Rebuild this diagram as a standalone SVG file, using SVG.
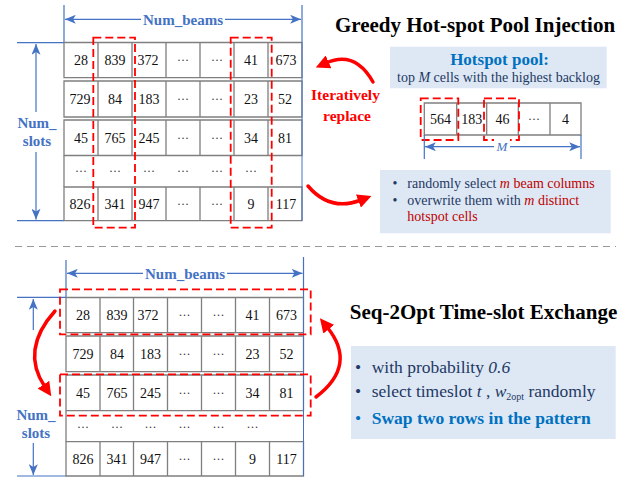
<svg xmlns="http://www.w3.org/2000/svg" width="638" height="480" viewBox="0 0 638 480">
<style>
text{font-family:"Liberation Serif","Times New Roman",serif}
.c{font-size:14px;fill:#111;text-anchor:middle}
.d{font-size:12px;fill:#333;text-anchor:middle}
.cell{fill:#fff;stroke:#7f7f7f;stroke-width:1.3}
.bl{stroke:#4472C4;stroke-width:1.2;fill:none}
.bt{font-size:15px;font-weight:bold;fill:#4472C4;text-anchor:middle}
.rd{fill:none;stroke:#FF0000;stroke-width:1.8;stroke-dasharray:8 4}
.ra{fill:none;stroke:#FF0000;stroke-width:3.5;stroke-linecap:round}
.ti{font-size:21px;font-weight:bold;fill:#000;text-anchor:middle}
.box{fill:#DDE8F4}
.nv{fill:#1F3864}
.rr{fill:#C00000}
</style>
<defs>
<marker id="ab" viewBox="0 0 12 10" refX="12" refY="5" markerWidth="12" markerHeight="9" orient="auto-start-reverse" markerUnits="userSpaceOnUse"><path d="M0,0 L12,5 L0,10 L3,5 z" fill="#4472C4"/></marker>
<marker id="ar" viewBox="0 0 10 10" refX="2" refY="5" markerWidth="14" markerHeight="14" orient="auto" markerUnits="userSpaceOnUse"><path d="M0,0 L10,5 L0,10 z" fill="#FF0000"/></marker>
</defs>
<rect width="638" height="480" fill="#fff"/>

<!-- TOP SECTION -->
<g id="top-dimensions">
<line class="bl" x1="64" y1="5" x2="64" y2="42.5"/>
<line class="bl" x1="302" y1="5" x2="302" y2="42.5"/>
<line class="bl" x1="65" y1="19.3" x2="301" y2="19.3" marker-start="url(#ab)" marker-end="url(#ab)"/>
<rect x="141" y="10" width="84" height="18" fill="#fff"/>
<text class="bt" x="183" y="24.5">Num_beams</text>
<line class="bl" x1="17" y1="42.6" x2="64" y2="42.6"/>
<line class="bl" x1="17" y1="220.7" x2="64" y2="220.7"/>
<line class="bl" x1="36" y1="44" x2="36" y2="112" marker-start="url(#ab)"/>
<line class="bl" x1="36" y1="152" x2="36" y2="219.5" marker-end="url(#ab)"/>
<text class="bt" x="37" y="128.3">Num_</text>
<text class="bt" x="37" y="145.7">slots</text>
</g>

<g id="top-grid">
<path class="cell" d="M64,42.5h34v35.2h-34z M98,42.5h34v35.2h-34z M132,42.5h34v35.2h-34z M166,42.5h34v35.2h-34z M200,42.5h34v35.2h-34z M234,42.5h34v35.2h-34z M268,42.5h34v35.2h-34z"/>
<path class="cell" d="M64,81h34v36h-34z M98,81h34v36h-34z M132,81h34v36h-34z M166,81h34v36h-34z M200,81h34v36h-34z M234,81h34v36h-34z M268,81h34v36h-34z"/>
<path class="cell" d="M64,120h34v35.5h-34z M98,120h34v35.5h-34z M132,120h34v35.5h-34z M166,120h34v35.5h-34z M200,120h34v35.5h-34z M234,120h34v35.5h-34z M268,120h34v35.5h-34z"/>
<path class="cell" d="M64,187h34v33.7h-34z M98,187h34v33.7h-34z M132,187h34v33.7h-34z M166,187h34v33.7h-34z M200,187h34v33.7h-34z M234,187h34v33.7h-34z M268,187h34v33.7h-34z"/>
<line x1="64" y1="155.5" x2="64" y2="187" stroke="#7f7f7f" stroke-width="1.3"/>
<line x1="302" y1="42.5" x2="302" y2="220.7" stroke="#4472C4" stroke-width="1"/>
<text class="c" x="81" y="65">28</text><text class="c" x="115" y="65">839</text><text class="c" x="148" y="65">372</text><text class="d" x="183" y="64">···</text><text class="d" x="217" y="64">···</text><text class="c" x="251" y="65">41</text><text class="c" x="286" y="65">673</text>
<text class="c" x="80" y="104">729</text><text class="c" x="115" y="104">84</text><text class="c" x="149" y="104">183</text><text class="d" x="183" y="103">···</text><text class="d" x="217" y="103">···</text><text class="c" x="251" y="104">23</text><text class="c" x="285" y="104">52</text>
<text class="c" x="81" y="143">45</text><text class="c" x="115" y="143">765</text><text class="c" x="149" y="143">245</text><text class="d" x="183" y="142">···</text><text class="d" x="217" y="142">···</text><text class="c" x="251" y="143">34</text><text class="c" x="285" y="143">81</text>
<text class="d" x="81" y="175">···</text><text class="d" x="115" y="175">···</text><text class="d" x="149" y="175">···</text><text class="d" x="183" y="175">···</text><text class="d" x="217" y="175">···</text><text class="d" x="251" y="175">···</text>
<text class="c" x="80" y="209">826</text><text class="c" x="115" y="209">341</text><text class="c" x="149" y="209">947</text><text class="d" x="183" y="208">···</text><text class="d" x="217" y="208">···</text><text class="c" x="251" y="209">9</text><text class="c" x="286" y="209">117</text>
<rect class="rd" x="93.3" y="37.7" width="41.7" height="190"/>
<rect class="rd" x="230.7" y="37.7" width="41" height="190"/>
</g>

<g id="top-title">
<text class="ti" x="475" y="32">Greedy Hot-spot Pool Injection</text>
</g>

<g id="hotspot-pool">
<rect class="box" x="390" y="46.7" width="216.7" height="41.6"/>
<text x="499.5" y="65" font-size="17px" font-weight="bold" fill="#0070C0" text-anchor="middle">Hotspot pool:</text>
<text x="498.5" y="81.7" font-size="14px" class="nv" text-anchor="middle">top <tspan font-style="italic">M</tspan> cells with the highest backlog</text>
</g>

<g id="pool-array">
<path class="cell" d="M424.3,103h32.4v32h-32.4z M456.7,103h30v32h-30z M486.7,103h31.6v32h-31.6z M518.3,103h31.7v32h-31.7z M550,103h31v32h-31z"/>
<text class="c" x="440.5" y="124">564</text><text class="c" x="471.7" y="124">183</text><text class="c" x="502.5" y="124">46</text><text class="d" x="534" y="123">···</text><text class="c" x="565.5" y="124">4</text>
<rect class="rd" x="420.7" y="98.3" width="37.6" height="41.7"/>
<rect class="rd" x="484" y="98.3" width="35" height="41.7"/>
<line class="bl" x1="424.3" y1="135" x2="424.3" y2="159"/>
<line class="bl" x1="581" y1="135" x2="581" y2="159"/>
<line class="bl" x1="425" y1="146.7" x2="580" y2="146.7" marker-start="url(#ab)" marker-end="url(#ab)"/>
<rect x="494" y="139" width="16" height="14" fill="#fff"/>
<text x="502" y="151" font-size="13px" font-style="italic" fill="#4472C4" text-anchor="middle">M</text>
</g>

<g id="iteratively-replace">
<text x="345.5" y="100" font-size="15.5px" font-weight="bold" fill="#FF0000" text-anchor="middle">Iteratively</text>
<text x="347" y="120.7" font-size="15.5px" font-weight="bold" fill="#FF0000" text-anchor="middle">replace</text>
</g>

<g id="top-bullets">
<rect class="box" x="380" y="170" width="230.7" height="63.3"/>
<text x="395" y="188.3" font-size="14px" class="nv" text-anchor="middle">•</text>
<text x="407.3" y="188.3" font-size="14px" class="nv">randomly select <tspan class="rr" font-style="italic">m</tspan><tspan class="rr"> beam columns</tspan></text>
<text x="395" y="205" font-size="14px" class="nv" text-anchor="middle">•</text>
<text x="407.3" y="205" font-size="14px" class="nv">overwrite them with <tspan class="rr" font-style="italic">m</tspan><tspan class="rr"> distinct</tspan></text>
<text x="407.3" y="220.7" font-size="14px" class="rr">hotspot cells</text>
</g>

<line id="separator" x1="15" y1="246.5" x2="616" y2="246.5" stroke="#9a9a9a" stroke-width="1.2" stroke-dasharray="7 5"/>

<!-- BOTTOM SECTION -->
<g id="bottom-dimensions">
<line class="bl" x1="66" y1="260" x2="66" y2="297.5"/>
<line class="bl" x1="303.5" y1="257" x2="303.5" y2="297.5"/>
<line class="bl" x1="67" y1="273.3" x2="302.5" y2="273.3" marker-start="url(#ab)" marker-end="url(#ab)"/>
<rect x="143" y="264" width="84" height="18" fill="#fff"/>
<text class="bt" x="185" y="278.5">Num_beams</text>
<line class="bl" x1="17" y1="297.4" x2="66" y2="297.4"/>
<line class="bl" x1="17" y1="476" x2="66" y2="476"/>
<line class="bl" x1="33.3" y1="299" x2="33.3" y2="330" marker-start="url(#ab)"/>
<line class="bl" x1="33.3" y1="443" x2="33.3" y2="475" marker-end="url(#ab)"/>
<text class="bt" x="36" y="420">Num_</text>
<text class="bt" x="36" y="437.5">slots</text>
</g>

<g id="bottom-grid">
<path class="cell" d="M66,297.5h34v35.2h-34z M100,297.5h33.5v35.2h-33.5z M133.5,297.5h34v35.2h-34z M167.5,297.5h34v35.2h-34z M201.5,297.5h34v35.2h-34z M235.5,297.5h34v35.2h-34z M269.5,297.5h34v35.2h-34z"/>
<path class="cell" d="M66,336h34v35.7h-34z M100,336h33.5v35.7h-33.5z M133.5,336h34v35.7h-34z M167.5,336h34v35.7h-34z M201.5,336h34v35.7h-34z M235.5,336h34v35.7h-34z M269.5,336h34v35.7h-34z"/>
<path class="cell" d="M66,375h34v35.7h-34z M100,375h33.5v35.7h-33.5z M133.5,375h34v35.7h-34z M167.5,375h34v35.7h-34z M201.5,375h34v35.7h-34z M235.5,375h34v35.7h-34z M269.5,375h34v35.7h-34z"/>
<path class="cell" d="M66,441.7h34v34.3h-34z M100,441.7h33.5v34.3h-33.5z M133.5,441.7h34v34.3h-34z M167.5,441.7h34v34.3h-34z M201.5,441.7h34v34.3h-34z M235.5,441.7h34v34.3h-34z M269.5,441.7h34v34.3h-34z"/>
<line x1="66" y1="410.7" x2="66" y2="441.7" stroke="#7f7f7f" stroke-width="1.3"/>
<line x1="303.5" y1="297.5" x2="303.5" y2="476" stroke="#4472C4" stroke-width="1"/>
<text class="c" x="83" y="320">28</text><text class="c" x="117" y="320">839</text><text class="c" x="148" y="320">372</text><text class="d" x="184.5" y="319">···</text><text class="d" x="218.5" y="319">···</text><text class="c" x="252.5" y="320">41</text><text class="c" x="286.5" y="320">673</text>
<text class="c" x="83" y="359">729</text><text class="c" x="117" y="359">84</text><text class="c" x="150.5" y="359">183</text><text class="d" x="184.5" y="358">···</text><text class="d" x="218.5" y="358">···</text><text class="c" x="252.5" y="359">23</text><text class="c" x="286.5" y="359">52</text>
<text class="c" x="83" y="398">45</text><text class="c" x="117" y="398">765</text><text class="c" x="150.5" y="398">245</text><text class="d" x="184.5" y="397">···</text><text class="d" x="218.5" y="397">···</text><text class="c" x="252.5" y="398">34</text><text class="c" x="286.5" y="398">81</text>
<text class="d" x="83" y="431">···</text><text class="d" x="117" y="431">···</text><text class="d" x="150.5" y="431">···</text><text class="d" x="184.5" y="431">···</text><text class="d" x="218.5" y="431">···</text><text class="d" x="252.5" y="431">···</text>
<text class="c" x="83" y="464">826</text><text class="c" x="117" y="464">341</text><text class="c" x="150.5" y="464">947</text><text class="d" x="184.5" y="463">···</text><text class="d" x="218.5" y="463">···</text><text class="c" x="252.5" y="464">9</text><text class="c" x="286.5" y="464">117</text>
<rect class="rd" x="60" y="289.3" width="250.7" height="45"/>
<rect class="rd" x="60" y="374.3" width="250.7" height="41.4"/>
</g>

<g id="bottom-title">
<text class="ti" x="483.5" y="318.7">Seq-2Opt Time-slot Exchange</text>
</g>

<g id="bottom-bullets">
<rect class="box" x="351" y="346" width="264.7" height="93"/>
<text x="358" y="372.7" font-size="17.5px" class="nv" text-anchor="middle">•</text>
<text x="371.7" y="372.7" font-size="17.5px" class="nv">with probability <tspan font-style="italic">0.6</tspan></text>
<text x="358" y="396.7" font-size="17.5px" class="nv" text-anchor="middle">•</text>
<text x="371.7" y="396.7" font-size="17.5px" class="nv">select timeslot <tspan font-style="italic">t</tspan> , <tspan font-style="italic">w</tspan><tspan font-size="10px" dy="3">2opt</tspan><tspan dy="-3"> randomly</tspan></text>
<text x="358" y="424.3" font-size="17.5px" fill="#0070C0" text-anchor="middle">•</text>
<text x="371.7" y="424.3" font-size="17.5px" font-weight="bold" fill="#0070C0">Swap two rows in the pattern</text>
</g>

<g id="connectors">
<path class="ra" d="M373,82 Q355,50 326,63" marker-end="url(#ar)"/>
<path class="ra" d="M308,186 Q330,212 361,200" marker-end="url(#ar)"/>
<path class="ra" d="M55,311 Q20,350 45,387" marker-end="url(#ar)"/>
<path class="ra" d="M316,397 Q358,365 327,327" marker-end="url(#ar)"/>
</g>
</svg>
